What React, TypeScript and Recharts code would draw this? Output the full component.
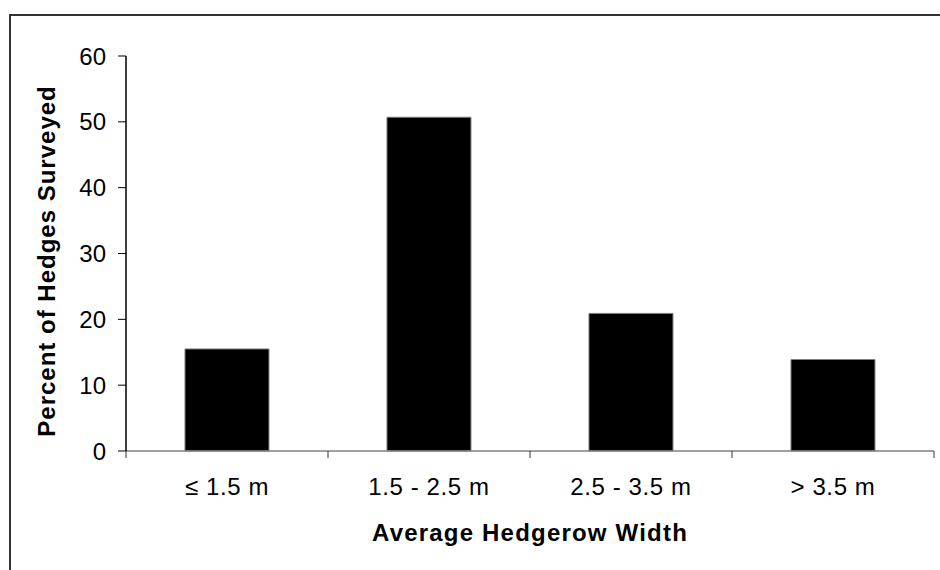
import { BarChart, Bar, XAxis, YAxis } from "recharts";

const categories = ["≤ 1.5 m", "1.5 - 2.5 m", "2.5 - 3.5 m", "> 3.5 m"];
const percents = [15.5, 50.7, 20.9, 13.9];
const yTicks = [0, 10, 20, 30, 40, 50, 60];

const data = categories.map((width, i) => ({ width, percent: percents[i] }));

const FONT = '"Liberation Sans", Arial, sans-serif';

function WidthTick(props: any) {
  const { x, y, payload, index, visibleTicksCount } = props;
  const half = payload?.offset ?? 0;
  return (
    <g>
      <line x1={x - half} x2={x - half} y1={y} y2={y + 7} stroke="#333" />
      {index === visibleTicksCount - 1 && (
        <line x1={x + half} x2={x + half} y1={y} y2={y + 7} stroke="#333" />
      )}
      <text
        x={x}
        y={y + 44}
        textAnchor="middle"
        fontSize={24}
        letterSpacing={0.6}
        fill="#000"
      >
        {payload.value}
      </text>
    </g>
  );
}

export default function App() {
  return (
    <div
      style={{
        position: "fixed",
        left: 0,
        top: 0,
        width: 940,
        height: 570,
        background: "#fff",
        fontFamily: FONT,
      }}
    >
      <div
        style={{
          position: "absolute",
          left: 9,
          top: 14,
          width: 931,
          height: 556,
          borderTop: "2px solid #333",
          borderLeft: "2px solid #333",
          boxSizing: "border-box",
        }}
      />
      <div style={{ position: "absolute", left: 0, top: 0 }}>
        <BarChart
          width={940}
          height={570}
          data={data}
          margin={{ top: 56, right: 6, bottom: 0, left: 0 }}
          barCategoryGap="29.2%"
        >
          <XAxis
            dataKey="width"
            height={119}
            axisLine={{ stroke: "#808080", strokeWidth: 1.5 }}
            tickLine={false}
            tickSize={0}
            tickMargin={0}
            interval={0}
            tick={<WidthTick />}
            label={{
              content: () => (
                <text
                  x={530}
                  y={541}
                  textAnchor="middle"
                  fontSize={24}
                  fontWeight="bold"
                  letterSpacing={1.2}
                  fill="#000"
                >
                  Average Hedgerow Width
                </text>
              ),
            }}
          />
          <YAxis
            width={126}
            domain={[0, 60]}
            ticks={yTicks}
            interval={0}
            axisLine={{ stroke: "#000", strokeWidth: 1.5 }}
            tickLine={{ stroke: "#000" }}
            tickSize={8}
            tickMargin={12}
            tick={{ fontSize: 24, fill: "#000" }}
            label={{
              content: () => (
                <text
                  x={55}
                  y={261}
                  transform="rotate(-90, 55, 261)"
                  textAnchor="middle"
                  fontSize={24}
                  fontWeight="bold"
                  letterSpacing={1}
                  fill="#000"
                >
                  Percent of Hedges Surveyed
                </text>
              ),
            }}
          />
          <Bar
            dataKey="percent"
            fill="#000"
            stroke="#808080"
            strokeWidth={1}
            isAnimationActive={false}
          />
        </BarChart>
      </div>
    </div>
  );
}
